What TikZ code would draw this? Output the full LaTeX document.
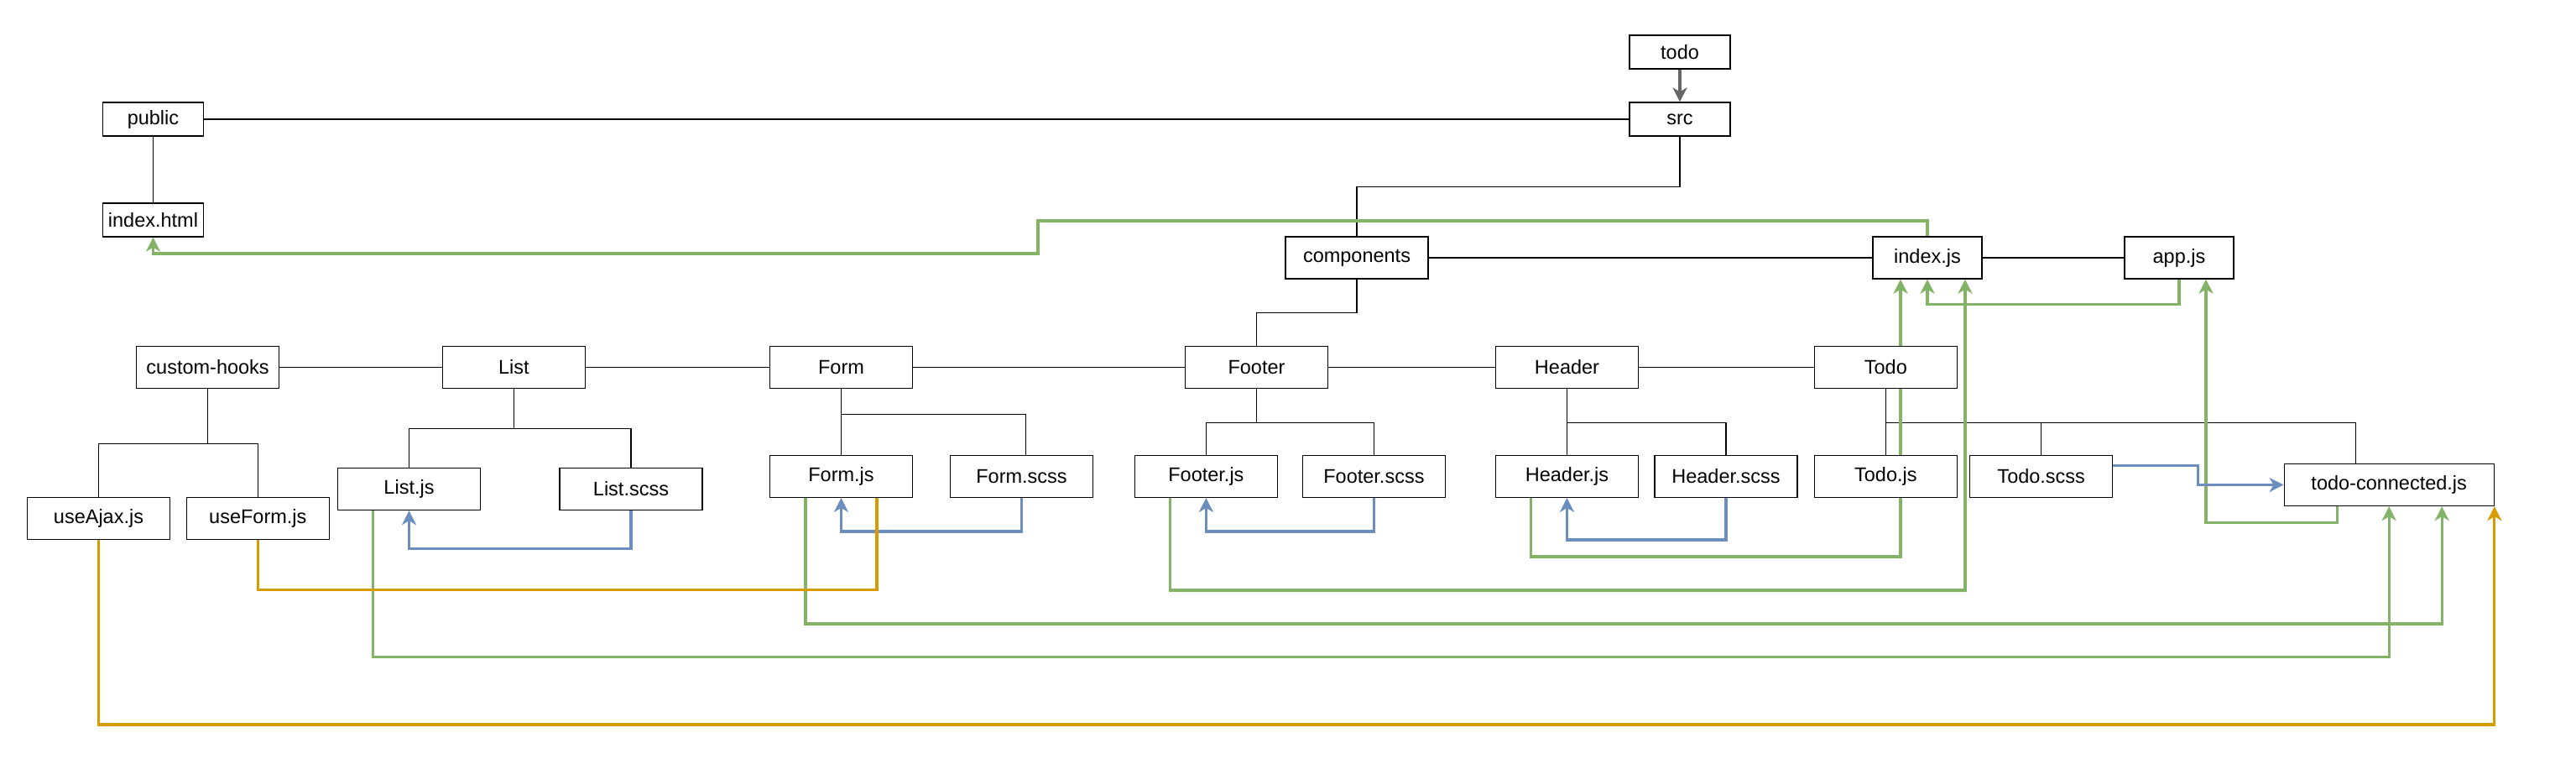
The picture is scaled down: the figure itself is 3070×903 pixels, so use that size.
\documentclass[tikz,border=0pt]{standalone}
\usepackage{fontspec}
\setmainfont{Liberation Sans}
\usetikzlibrary{arrows.meta}
\definecolor{cgreen}{HTML}{82B366}
\definecolor{cblue}{HTML}{6C8EBF}
\definecolor{corange}{HTML}{D79B00}
\definecolor{cgray}{HTML}{666666}
\pgfdeclarelayer{background}
\pgfsetlayers{background,main}
\begin{document}
\begin{tikzpicture}[x=1pt,y=-1pt,
  box/.style={draw=black,fill=white,line width=1.3pt,minimum width=170pt,minimum height=50pt,inner sep=0pt,font=\fontsize{23.5}{28}\selectfont},
  sbox/.style={box,minimum width=120pt,minimum height=40pt},
  tree/.style={draw=black,line width=1.1pt},
  tipa/.style={-{Stealth[length=17pt,width=17pt,inset=5pt]}},
  gl/.style={draw=cgreen,line width=3.2pt},
  bl/.style={draw=cblue,line width=3.2pt},
  ol/.style={draw=corange,line width=3.2pt}]
\useasboundingbox (0,0) rectangle (3070,903);
% top
\node[sbox] (todo) at (2002,62) {todo};
\node[sbox] (src) at (2002,142) {src};
\node[sbox] (public) at (182.5,142) {public};
\node[sbox] (indexhtml) at (182.5,262) {index.html};
\node[box] (components) at (1617,307) {components};
\node[box,minimum width=130pt] (indexjs) at (2297,307) {index.js};
\node[box,minimum width=130pt] (appjs) at (2597,307) {app.js};
% row 2
\node[box] (customhooks) at (247.6,437.5) {custom-hooks};
\node[box] (list) at (612.4,437.5) {List};
\node[box] (form) at (1002.5,437.5) {Form};
\node[box] (footer) at (1497.5,437.5) {Footer};
\node[box] (header) at (1867.5,437.5) {Header};
\node[box] (todoc) at (2247.3,437.5) {Todo};
% row 3
\node[box] (useajax) at (117.5,617.4) {useAjax.js};
\node[box] (useform) at (307.3,617.4) {useForm.js};
\node[box] (listjs) at (487.5,582.5) {List.js};
\node[box] (listscss) at (752,582.5) {List.scss};
\node[box] (formjs) at (1002.5,567.3) {Form.js};
\node[box] (formscss) at (1217.5,567.3) {Form.scss};
\node[box] (footerjs) at (1437.4,567.3) {Footer.js};
\node[box] (footerscss) at (1637.4,567.3) {Footer.scss};
\node[box] (headerjs) at (1867.5,567.3) {Header.js};
\node[box] (headerscss) at (2057,567.3) {Header.scss};
\node[box] (todojs) at (2247.3,567.3) {Todo.js};
\node[box] (todoscss) at (2432.7,567.3) {Todo.scss};
\node[box,minimum width=250pt] (todoconn) at (2847.2,577.5) {todo-connected.js};

\begin{pgfonlayer}{background}
% tree lines
\draw[tree] (src.west) -- (public.east);
\draw[tree] (public.south) -- (indexhtml.north);
\draw[tree] (src.south) -- ++(0,60) -| (components.north);
\draw[tree] (components.east) -- (indexjs.west);
\draw[tree] (indexjs.east) -- (appjs.west);
\draw[tree] (components.south) -- ++(0,40) -| (footer.north);
\draw[tree] (customhooks.east) -- (list.west);
\draw[tree] (list.east) -- (form.west);
\draw[tree] (form.east) -- (footer.west);
\draw[tree] (footer.east) -- (header.west);
\draw[tree] (header.east) -- (todoc.west);
\draw[tree] (customhooks.south) -- ++(0,65) coordinate (chb);
\draw[tree] (useajax.north) |- (chb) -| (useform.north);
\draw[tree] (list.south) -- ++(0,47.3) coordinate (lb);
\draw[tree] (listjs.north) |- (lb) -| (listscss.north);
\draw[tree] (form.south) -- (formjs.north);
\draw[tree] ([yshift=-30pt]form.south) -| ([xshift=5pt]formscss.north);
\draw[tree] (footer.south) -- ++(0,40) coordinate (fb);
\draw[tree] (footerjs.north) |- (fb) -| (footerscss.north);
\draw[tree] (header.south) -- ++(0,40) coordinate (hb);
\draw[tree] (headerjs.north) |- (hb) -| (headerscss.north);
\draw[tree] (todoc.south) -- ++(0,40) coordinate (tb);
\draw[tree] (todojs.north) |- (tb) -| ([xshift=-40pt]todoconn.north);
\draw[tree] (todoscss.north) -- (todoscss.north |- tb);
% gray arrow
\draw[draw=cgray,fill=cgray,line width=4pt,-{Stealth[length=17pt,width=17pt,inset=5pt,fill=cgray]}] (todo.south) -- (src.north);
% green
\draw[gl,tipa] (indexjs.north) |- (1237,263) -- (1237,302) -| (indexhtml.south);
\draw[gl,tipa] (appjs.south) -- ++(0,30) -| (indexjs.south);
\draw[gl,tipa] ([xshift=-43pt]headerjs.south) -- ++(0,70) -| ([xshift=-32pt]indexjs.south);
\draw[gl,tipa] ([xshift=-43pt]footerjs.south) -- ++(0,110) -| ([xshift=45pt]indexjs.south);
\draw[gl,tipa] ([xshift=-62pt]todoconn.south) -- ++(0,19.5) -| ([xshift=32pt]appjs.south);
\draw[gl,tipa] ([xshift=-43pt]listjs.south) -- ++(0,174.5) -| (todoconn.south);
\draw[gl,tipa] ([xshift=-42.5pt]formjs.south) -- ++(0,150) -| ([xshift=63pt]todoconn.south);
% blue
\draw[bl,tipa] (listscss.south) -- ++(0,45) -| (listjs.south);
\draw[bl,tipa] (formscss.south) -- ++(0,40) -| (formjs.south);
\draw[bl,tipa] (footerscss.south) -- ++(0,40) -| (footerjs.south);
\draw[bl,tipa] (headerscss.south) -- ++(0,50) -| (headerjs.south);
\draw[bl,tipa] ([yshift=-13pt]todoscss.north east) -| ([xshift=-102pt]todoconn.west) -- (todoconn.west);
% orange
\draw[ol] (useform.south) -- ++(0,59.6) -| ([xshift=42.5pt]formjs.south);
\draw[ol,tipa] (useajax.south) -- ++(0,220) -| (todoconn.south east);
\end{pgfonlayer}
\end{tikzpicture}
\end{document}
